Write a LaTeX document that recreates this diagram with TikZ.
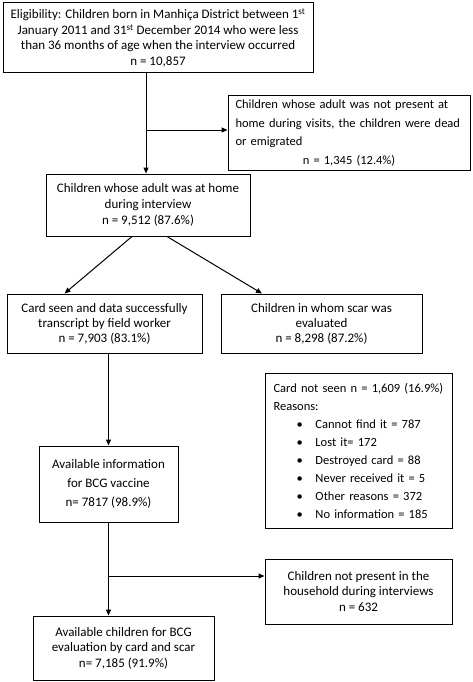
\documentclass[tikz,border=0pt]{standalone}
\usepackage{fontspec}
\setmainfont{Carlito}
\usetikzlibrary{arrows.meta,calc}
\tikzset{
  box/.style={draw, line width=1pt, align=center, inner sep=2pt, font=\fontsize{13}{15.5}\selectfont},
  arr/.style={line width=1pt, -{Triangle[length=6pt,width=5pt]}},
}
\newcommand{\bul}[1]{\makebox[42pt][l]{\hspace{23pt}\textbullet}#1}
\begin{document}
\begin{tikzpicture}[x=1pt,y=-1pt]
\useasboundingbox (0,0) rectangle (473,682);
\node[box, minimum width=310pt, minimum height=70pt] (b1) at (158,38)
  {Eligibility: Children born in Manhiça District between 1\textsuperscript{st}\\
   January 2011 and 31\textsuperscript{st} December 2014 who were less\\
   than 36 months of age when the interview occurred\\
   n = 10,857};
\node[box, minimum width=242pt, minimum height=74pt, text width=227pt, align=left,
      font=\fontsize{12.5}{18.5}\selectfont] (np) at (349,133)
  {Children whose adult was not present at\\
   home during visits, the children were dead\\
   or emigrated\\
   \makebox[\linewidth][c]{n = 1,345 (12.4\%)}};
\node[box, minimum width=204pt, minimum height=62pt, font=\fontsize{13}{16}\selectfont] (b2) at (148,205)
  {Children whose adult was at home\\ during interview\\ n = 9,512 (87.6\%)};
\node[box, minimum width=195pt, minimum height=59pt, font=\fontsize{13}{15}\selectfont] (card) at (104.5,323.5)
  {Card seen and data successfully\\ transcript by field worker\\ n = 7,903 (83.1\%)};
\node[box, minimum width=201pt, minimum height=59pt, font=\fontsize{13}{15}\selectfont] (scar) at (321.5,323.5)
  {Children in whom scar was\\ evaluated\\ n = 8,298 (87.2\%)};
\node[box, minimum width=139pt, minimum height=76pt, font=\fontsize{13}{19}\selectfont] (info) at (108.5,484)
  {Available information\\ for BCG vaccine\\ n= 7817 (98.9\%)};
\node[box, minimum width=187pt, minimum height=155pt, text width=170pt, align=left,
      font=\fontsize{12.5}{18}\selectfont] (cns) at (358.5,450.5)
  {Card not seen n = 1,609 (16.9\%)\\
   Reasons:\\
   \bul{Cannot find it = 787}\\
   \bul{Lost it= 172}\\
   \bul{Destroyed card = 88}\\
   \bul{Never received it = 5}\\
   \bul{Other reasons = 372}\\
   \bul{No information = 185}};
\node[box, minimum width=187pt, minimum height=65pt] (hh) at (358.5,591.5)
  {Children not present in the\\ household during interviews\\ n = 632};
\node[box, minimum width=181pt, minimum height=64pt] (fin) at (123.5,648)
  {Available children for BCG\\ evaluation by card and scar\\ n= 7,185 (91.9\%)};
% connectors
\coordinate (t1) at (146,73);
\coordinate (br1) at (146,130);
\draw[arr] (t1) -- (t1 |- b2.north);
\draw[arr] (br1) -- (br1 -| np.west);
\draw[arr] ($(b2.south)+(-16,0)$) -- ($(card.north)+(-40,0)$);
\draw[arr] ($(b2.south)+(19,0)$) -- ($(scar.north)+(-59.5,0)$);
\draw[arr] (info.north |- card.south) -- (info.north);
\coordinate (br2) at (108,576);
\draw[arr] (info.south) -- (info.south |- fin.north);
\draw[arr] (br2) -- (br2 -| hh.west);
\end{tikzpicture}
\end{document}
